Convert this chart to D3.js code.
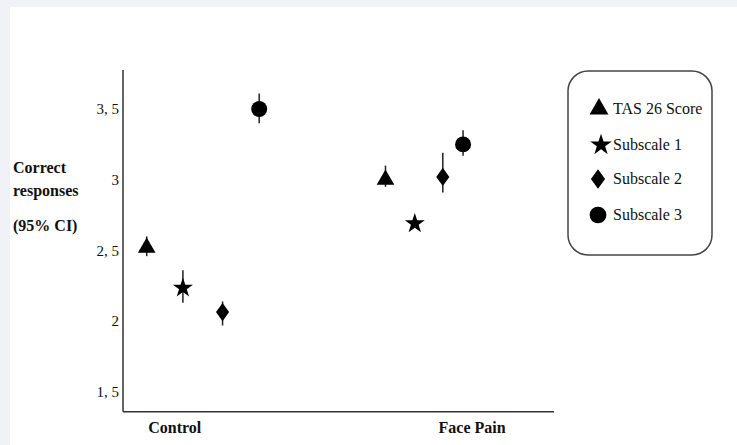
<!DOCTYPE html>
<html>
<head>
<meta charset="utf-8">
<script src="https://cdn.jsdelivr.net/npm/d3@7"></script>
<style>
  body { margin: 0; background: #f1f2f7; }
  svg { display: block; }
  text { font-family: "Liberation Serif", "Times New Roman", serif; fill: #111; }
</style>
</head>
<body>
<svg width="737" height="445"></svg>
<script>
// groups and the position of each marker along the x axis (condition units)
const groups = ["Control", "Face Pain"];
const groupLabelPos = [1.2, 8.1];
const series = ["TAS 26 Score", "Subscale 1", "Subscale 2", "Subscale 3"];

const xControl = [0.55, 1.39, 2.31, 3.16];
const xFacePain = [6.09, 6.77, 7.42, 7.89];

// means and 95% CI bounds, per series
const meanControl = [2.52, 2.235, 2.065, 3.5];
const loControl   = [2.46, 2.13, 1.97, 3.40];
const hiControl   = [2.60, 2.36, 2.14, 3.61];

const meanFacePain = [3.0, 2.69, 3.02, 3.25];
const loFacePain   = [2.95, 2.67, 2.91, 3.17];
const hiFacePain   = [3.10, 2.71, 3.19, 3.35];

const yTicks = [1.5, 2, 2.5, 3, 3.5];
const yLabelLines = ["Correct", "responses", "(95% CI)"];

const svg = d3.select("svg");

// white sheet with the light band on top and left
svg.append("rect").attr("x", 10).attr("y", 7).attr("width", 737).attr("height", 445).attr("fill", "#fff");

const x = d3.scaleLinear().domain([0, 10]).range([123, 554]);
const y = d3.scaleLinear().domain([1.5, 3.5]).range([392, 109]);

// diamond, wider than d3's own
const diamond = {
  draw(ctx, size) {
    const h = Math.sqrt(size / 1.44);
    const w = h * 0.72;
    ctx.moveTo(0, -h); ctx.lineTo(w, 0); ctx.lineTo(0, h); ctx.lineTo(-w, 0); ctx.closePath();
  }
};
const shapes = [d3.symbolTriangle, d3.symbolStar, diamond, d3.symbolCircle];
const sizes = [135, 125, 120, 200];

// axes
const axisG = svg.append("g");
axisG.append("line").attr("x1", x(0)).attr("x2", x(0)).attr("y1", 70).attr("y2", y(1.36))
  .attr("stroke", "#333").attr("stroke-width", 1.5);
axisG.append("line").attr("x1", x(0)).attr("x2", x(10)).attr("y1", y(1.36)).attr("y2", y(1.36))
  .attr("stroke", "#333").attr("stroke-width", 1.5);

axisG.selectAll("text.tick").data(yTicks).enter().append("text")
  .attr("class", "tick")
  .attr("x", 119).attr("y", d => y(d) + 5)
  .attr("text-anchor", "end")
  .style("font-size", "15px")
  .text(d => d3.format(".1~f")(d).replace(".", ", "));

axisG.selectAll("text.group").data(groups).enter().append("text")
  .attr("class", "group")
  .attr("x", (d, i) => x(groupLabelPos[i]))
  .attr("y", 433)
  .attr("text-anchor", "middle")
  .style("font-size", "16px").style("font-weight", "bold")
  .text(d => d);

svg.selectAll("text.ylab").data(yLabelLines).enter().append("text")
  .attr("class", "ylab")
  .attr("x", 13).attr("y", (d, i) => [173, 196, 231][i])
  .style("font-size", "16px").style("font-weight", "bold")
  .text(d => d);

// points
const points = [];
series.forEach((s, i) => {
  points.push({ s: i, x: xControl[i], m: meanControl[i], lo: loControl[i], hi: hiControl[i] });
  points.push({ s: i, x: xFacePain[i], m: meanFacePain[i], lo: loFacePain[i], hi: hiFacePain[i] });
});

const pt = svg.selectAll("g.pt").data(points).enter().append("g").attr("class", "pt");
pt.append("line")
  .attr("x1", d => x(d.x)).attr("x2", d => x(d.x))
  .attr("y1", d => y(d.lo)).attr("y2", d => y(d.hi))
  .attr("stroke", "#222").attr("stroke-width", 1.5);
pt.append("path")
  .attr("transform", d => "translate(" + x(d.x) + "," + y(d.m) + ")")
  .attr("d", d => d3.symbol(shapes[d.s], sizes[d.s])())
  .attr("fill", "#000");

// legend
const leg = svg.append("g");
leg.append("rect").attr("x", 568).attr("y", 71).attr("width", 144).attr("height", 184)
  .attr("rx", 20).attr("ry", 20).attr("fill", "#fff").attr("stroke", "#444").attr("stroke-width", 1.5);
const rowY = [114, 150, 184, 220];
const li = leg.selectAll("g.li").data(series).enter().append("g").attr("class", "li");
li.append("path")
  .attr("transform", (d, i) => "translate(" + [599, 601, 598, 598][i] + "," + (rowY[i] - 5) + ")")
  .attr("d", (d, i) => d3.symbol(shapes[i], sizes[i] + 20)())
  .attr("fill", "#000");
li.append("text")
  .attr("x", 613).attr("y", (d, i) => rowY[i])
  .style("font-size", "16px")
  .text(d => d);
</script>
</body>
</html>
